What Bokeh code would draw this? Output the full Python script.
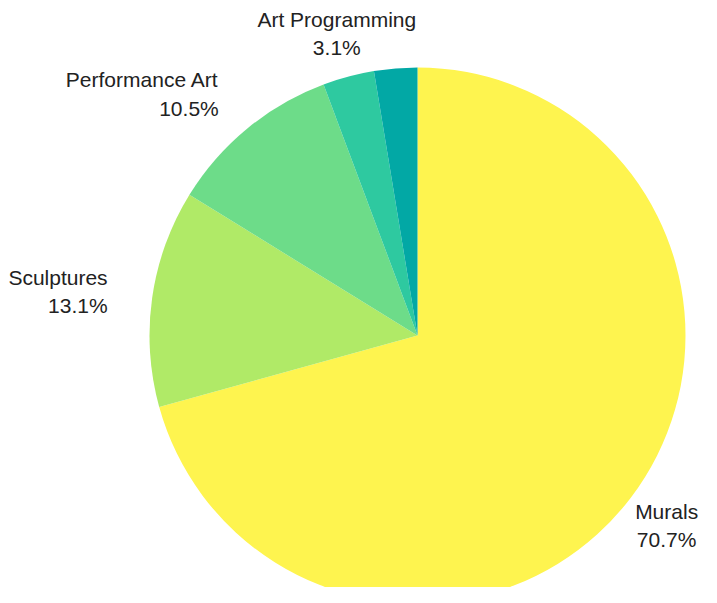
import math
from bokeh.plotting import figure
from bokeh.models import Range1d, ColumnDataSource
from bokeh.core.properties import value
from bokeh.embed import file_html
from bokeh.resources import INLINE

# Data (clockwise from 12 o'clock)
categories = ["Murals", "Sculptures", "Performance Art", "Art Programming", ""]
percents = [70.7, 13.1, 10.5, 3.1, 2.6]
colors = ["#fef44f", "#b0ea67", "#6ddc89", "#2ec9a0", "#02a8a5"]

W, H = 701, 587
p = figure(width=W, height=H, output_backend="svg", toolbar_location=None,
           x_range=Range1d(7, 708), y_range=Range1d(16, 603), min_border=0,
           background_fill_color="white", border_fill_color="white")
p.axis.visible = False
p.grid.visible = False
p.outline_line_color = None

cx, cy, R = 424, 268, 268
total = sum(percents)
starts, ends = [], []
cum = 0.0
for v in percents:
    starts.append(math.pi / 2 - 2 * math.pi * cum / total)
    cum += v
    ends.append(math.pi / 2 - 2 * math.pi * cum / total)

src = ColumnDataSource(dict(start=starts, end=ends, color=colors, cat=categories))
p.wedge(x=cx, y=cy, radius=R, start_angle="start", end_angle="end",
        direction="clock", fill_color="color", line_color=None, source=src)

# Labels outside
lr = R * 1.168
nx, ny, px_, py_, names, pcts, aligns = [], [], [], [], [], [], []
for cat, v, s, e in zip(categories, percents, starts, ends):
    if not cat:
        continue
    mid = (s + e) / 2
    dx, dy = math.cos(mid), math.sin(mid)
    ax, ay = cx + lr * dx, cy + lr * dy
    align = "right" if dx < -0.5 else "center"
    names.append(cat)
    pcts.append(f"{v:.1f}%")
    nx.append(ax); ny.append(ay + 14)
    px_.append(ax); py_.append(ay - 14.5)
    aligns.append(align)

lsrc = ColumnDataSource(dict(nx=nx, ny=ny, px=px_, py=py_, name=names, pct=pcts, align=aligns))
for xs, ys, t in (("nx", "ny", "name"), ("px", "py", "pct")):
    p.text(x=xs, y=ys, text=t, source=lsrc, text_align="align",
           text_baseline="middle", text_font=value("Liberation Sans"),
           text_font_size="21px", text_color="#222222")

open("out.html", "w").write(file_html(p, INLINE))
